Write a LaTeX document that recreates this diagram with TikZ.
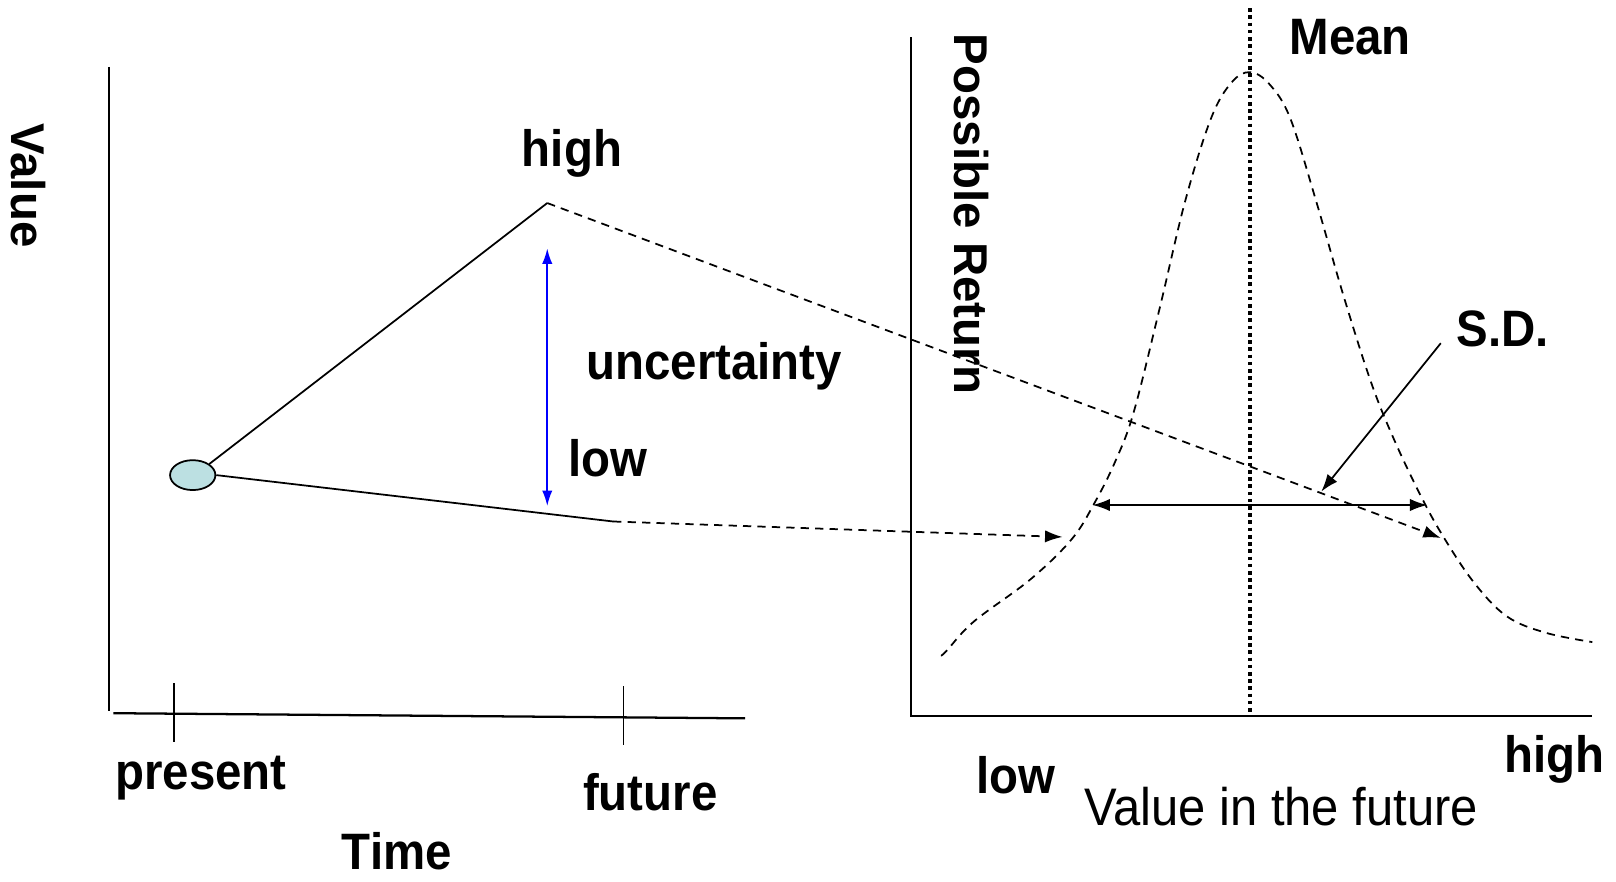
\documentclass[tikz,border=0pt]{standalone}
\usepackage{fontspec}
\setmainfont{Liberation Sans}
\usetikzlibrary{shapes.geometric,arrows.meta}
\definecolor{dotfill}{HTML}{BCE0E2}
\tikzset{
  bigfont/.style={font=\fontsize{46}{54}\selectfont\bfseries, inner sep=0pt},
  big/.style={bigfont, yscale=1.08},
  vbig/.style={bigfont, rotate=-90},
  reg/.style={font=\fontsize{47.5}{54}\selectfont, inner sep=0pt, yscale=1.08},
  axisline/.style={line width=2.2pt},
  thinline/.style={line width=1.7pt},
  dashline/.style={line width=1.7pt, dash pattern=on 8pt off 6pt},
  tipend/.style={-{Latex[length=17pt,width=12pt]}},
  tipboth/.style={{Latex[length=17pt,width=12pt]}-{Latex[length=17pt,width=12pt]}},
}
\begin{document}
\begin{tikzpicture}[x=1pt,y=-1pt]
\useasboundingbox (0,0) rectangle (1568,855);
% ---------- left panel ----------
\coordinate (ly0) at (106,65);
\coordinate (ly1) at (106,690);
\coordinate (lx0) at (110,692);
\coordinate (lx1) at (723,697);
\draw[axisline] (ly0) -- (ly1);
\draw[axisline] (lx0) -- (lx1);
\coordinate (t1a) at (169,663); \coordinate (t1b) at (169,720);
\coordinate (t2a) at (605,666); \coordinate (t2b) at (605,723);
\draw[thinline] (t1a) -- (t1b);
\draw[thinline] (t2a) -- (t2b);
\node[big] (present) at (195,755) {present};
\node[big] (future) at (631,769) {future};
\node[big] (time) at (385,826) {Time};
\node[vbig] (value) at (28,180) {Value};

\node[ellipse, draw, line width=1.7pt, fill=dotfill, minimum width=44pt, minimum height=29pt, inner sep=0pt] (pt) at (187,461) {};
\coordinate (hi) at (531,197);
\coordinate (lo) at (595,506);
\draw[thinline] (pt.north east) -- (hi);
\draw[thinline] (pt.east) -- (lo);
\node[big] (hightxt) at (555,149) {high};
\node[big] (unc) at (693,355) {uncertainty};
\node[big] (lowtxt) at (590,445) {low};
\coordinate (ba) at (531,241);
\coordinate (bb) at (531,491);
\draw[thinline, blue, {Latex[length=15pt,width=10pt]}-{Latex[length=15pt,width=10pt]}] (ba) -- (bb);

% ---------- right panel ----------
\coordinate (ry0) at (884,36);
\coordinate (ry1) at (884,695);
\coordinate (rx1) at (1545,695);
\draw[axisline] (ry0) -- (ry1) -- (rx1);
\coordinate (m0) at (1213,8);
\coordinate (m1) at (1213,695);
\draw[line width=3.5pt, dash pattern=on 3.5pt off 3.5pt] (m0) -- (m1);
\node[big] (mean) at (1310,36) {Mean};
\node[vbig] (pr) at (943,208) {Possible Return};

\draw[dashline] plot[smooth, tension=0.6] coordinates {
 (913,636) (918,632) (945,603) (1000,562) (1040,523) (1062,488) (1082,448) (1100,400)
 (1125,300) (1150,195) (1175,115) (1195,80) (1213,70) (1232,82) (1252,115)
 (1277,195) (1303,285) (1330,370) (1352,425) (1378,480) (1400,520) (1430,565)
 (1462,598) (1500,614) (1545,623)};

\coordinate (sdl) at (1060,490);
\coordinate (sdr) at (1385,490);
\draw[thinline, tipboth] (sdl) -- (sdr);

\coordinate (lowend) at (1031,521);
\coordinate (hiend) at (1398,522);
\draw[dashline, tipend] (lo) -- (lowend);
\draw[dashline, tipend] (hi) -- (hiend);

\node[big] (sd) at (1458,319) {S.D.};
\coordinate (sda) at (1398,333);
\coordinate (sdb) at (1282,477);
\draw[thinline, tipend] (sda) -- (sdb);

\node[big] (rlow) at (986,752) {low};
\node[big] (rhigh) at (1508,737) {high};
\node[reg] (vif) at (1243,783) {Value in the future};
\end{tikzpicture}
\end{document}
